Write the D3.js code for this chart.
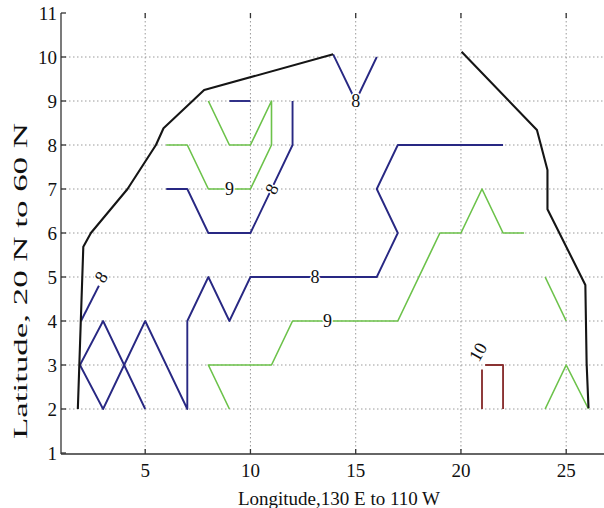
<!DOCTYPE html>
<html>
<head>
<meta charset="utf-8">
<script src="https://cdn.jsdelivr.net/npm/d3@7"></script>
<style>
  body { margin: 0; background: #fff; }
  svg { display: block; }
</style>
</head>
<body>
<svg width="604" height="508"></svg>
<script>
// contour pieces (lon index, lat index)
const blackLeft = [[1.8, 2], [2.06, 5.69], [2.42, 6], [4.16, 7], [5.51, 8], [5.87, 8.38], [7.8, 9.25], [13.93, 10.06]];
const blackRight = [[20.03, 10.12], [23.61, 8.34], [24.11, 7.43], [24.11, 6.54], [25.91, 4.82], [25.97, 3.04], [26.06, 2.02]];

const level8a = [[13.93, 10.06], [15, 9], [16, 10]];
const level8b = [[9, 9], [10, 9]];
const level8c = [[12, 9], [12, 8], [10, 6], [8, 6], [7, 7], [6, 7]];
const level8d = [[22, 8], [17, 8], [16, 7], [17, 6], [16, 5], [10, 5], [9, 4], [8, 5], [7, 4], [7, 2], [5, 4], [3, 2], [1.9, 3], [3, 4], [5, 2]];
const level8e = [[1.95, 4], [2.8, 4.8]];

const level9a = [[6, 8], [7, 8], [8, 7], [10, 7], [11, 8], [11, 9], [10, 8], [9, 8], [8, 9]];
const level9b = [[9, 2], [8, 3], [11, 3], [12, 4], [17, 4], [19, 6], [20, 6], [21, 7], [22, 6], [23, 6]];
const level9c = [[24, 5], [25, 4]];
const level9d = [[24, 2], [25, 3], [26.06, 2]];

const level10a = [[21, 2], [21, 2.9]];
const level10b = [[21.15, 3], [22, 3], [22, 2]];

// inline contour labels
const labelText = ["8", "8", "9", "8", "8", "9", "10"];
const labelX = [2.9, 15, 9, 11, 13.07, 13.66, 20.8];
const labelY = [5.0, 9, 7, 7, 5, 4, 3.3];
const labelAngle = [-55, 0, 0, -64, 0, 0, -60];

const xTicks = [5, 10, 15, 20, 25];
const yTicks = [1, 2, 3, 4, 5, 6, 7, 8, 9, 10, 11];

const svg = d3.select("svg");
const font = "'Liberation Serif', 'Times New Roman', serif";

const x = d3.scaleLinear().domain([1, 27]).range([61, 608.3]);
const y = d3.scaleLinear().domain([1, 11]).range([453, 13]);

// background
svg.append("rect").attr("width", 604).attr("height", 508).attr("fill", "#fff");

// dotted grid
const grid = svg.append("g").attr("stroke", "#9a9a9a").attr("stroke-width", 1)
    .attr("stroke-dasharray", "1.5,2.5");
grid.selectAll(".gx").data(xTicks).enter().append("line")
    .attr("x1", d => x(d)).attr("x2", d => x(d))
    .attr("y1", y(11)).attr("y2", y(1));
grid.selectAll(".gy").data(yTicks.slice(1, -1)).enter().append("line")
    .attr("x1", x(1)).attr("x2", 604)
    .attr("y1", d => y(d)).attr("y2", d => y(d));

// contour lines
const line = d3.line().x(d => x(d[0])).y(d => y(d[1]));
const plot = svg.append("g").attr("fill", "none")
    .attr("stroke-linejoin", "round").attr("stroke-linecap", "butt");

function drawLines(series, color, width) {
    plot.selectAll(null).data(series).enter().append("path")
        .attr("d", line)
        .attr("stroke", color)
        .attr("stroke-width", width);
}
drawLines([level9a, level9b, level9c, level9d], "#6cc24a", 1.6);
drawLines([level8a, level8b, level8c, level8d, level8e], "#282883", 1.9);
drawLines([level10a, level10b], "#8a3232", 1.9);
drawLines([blackLeft, blackRight], "#151515", 2.1);

// contour labels with a white halo to break the line
svg.append("g").selectAll("text").data(labelText).enter().append("text")
    .attr("transform", (d, i) => `translate(${x(labelX[i])},${y(labelY[i])}) rotate(${labelAngle[i]})`)
    .attr("text-anchor", "middle")
    .attr("dy", "0.35em")
    .attr("font-family", font)
    .attr("font-size", 18)
    .attr("fill", "#111")
    .attr("stroke", "#fff")
    .attr("stroke-width", 3)
    .attr("paint-order", "stroke")
    .text(d => d);

// axes
const axes = svg.append("g").attr("stroke", "#333").attr("stroke-width", 1.3);
axes.append("line").attr("x1", x(1)).attr("x2", x(1)).attr("y1", y(11)).attr("y2", y(1) + 1);
axes.append("line").attr("x1", x(1)).attr("x2", 604).attr("y1", y(1) + 1).attr("y2", y(1) + 1);
axes.selectAll(".tb").data(xTicks).enter().append("line")
    .attr("x1", d => x(d)).attr("x2", d => x(d))
    .attr("y1", y(1) + 1).attr("y2", y(1) - 4);
axes.selectAll(".tt").data(xTicks).enter().append("line")
    .attr("x1", d => x(d)).attr("x2", d => x(d))
    .attr("y1", y(11)).attr("y2", y(11) + 5);
axes.selectAll(".tl").data(yTicks).enter().append("line")
    .attr("x1", x(1)).attr("x2", x(1) + 5)
    .attr("y1", d => y(d)).attr("y2", d => y(d));

// tick labels
svg.append("g").selectAll("text").data(xTicks).enter().append("text")
    .attr("x", d => x(d)).attr("y", 477)
    .attr("text-anchor", "middle")
    .attr("font-family", font).attr("font-size", 19).attr("fill", "#111")
    .text(d => d);
svg.append("g").selectAll("text").data(yTicks).enter().append("text")
    .attr("x", 57).attr("y", d => y(d) + 7)
    .attr("text-anchor", "end")
    .attr("font-family", font).attr("font-size", 19).attr("fill", "#111")
    .text(d => d);

// axis titles
svg.append("text")
    .attr("x", 339).attr("y", 505)
    .attr("text-anchor", "middle")
    .attr("font-family", font).attr("font-size", 19).attr("fill", "#111")
    .text("Longitude,130 E to 110 W");
svg.append("text")
    .attr("transform", "translate(27,281) rotate(-90)")
    .attr("text-anchor", "middle")
    .attr("font-family", font).attr("font-size", 19).attr("fill", "#111")
    .attr("textLength", 316).attr("lengthAdjust", "spacingAndGlyphs")
    .text("Latitude, 20 N to 60 N");
</script>
</body>
</html>
